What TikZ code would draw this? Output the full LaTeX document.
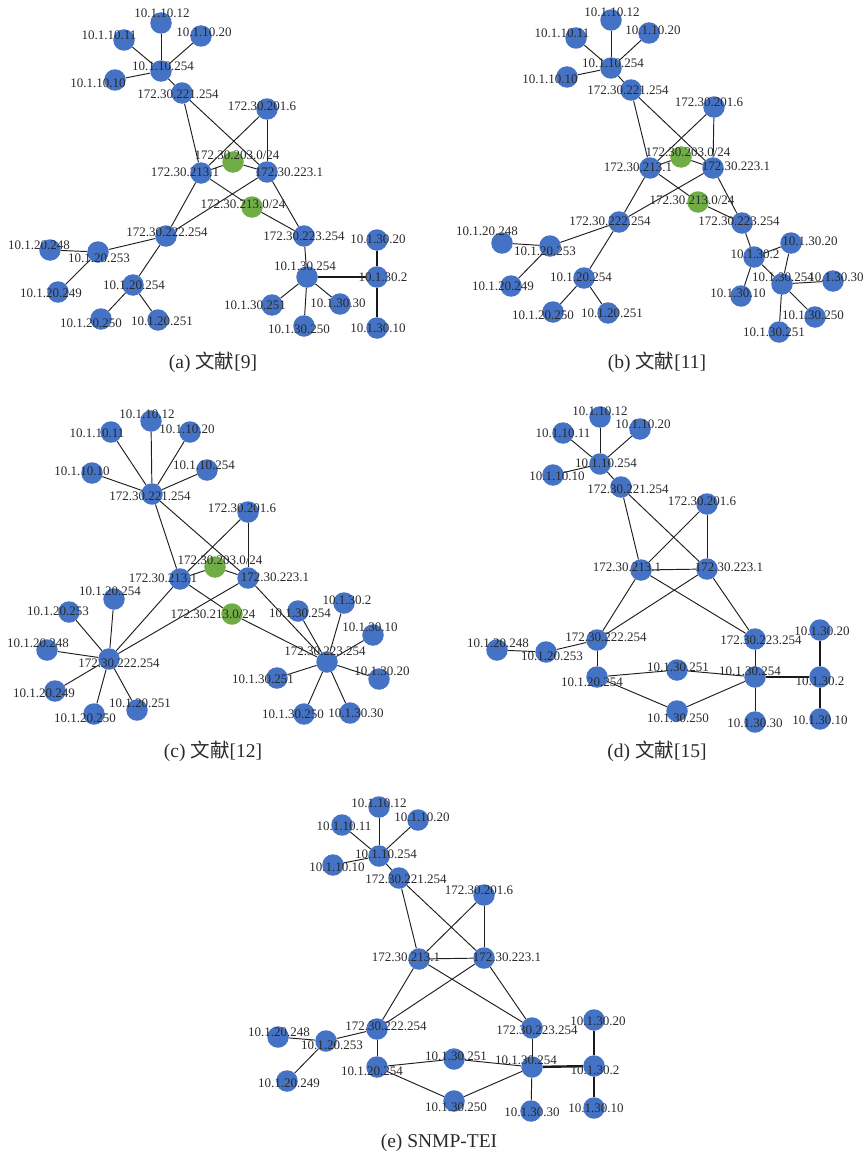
\documentclass[tikz,border=0pt]{standalone}
\usepackage{fontspec}
\setmainfont{Liberation Serif}
\newfontfamily\cjk{Noto Sans CJK SC}
\pgfdeclarelayer{background}
\pgfdeclarelayer{foreground}
\pgfsetlayers{background,main,foreground}
\definecolor{nb}{HTML}{4472C4}
\definecolor{ng}{HTML}{70AD47}
\definecolor{tx}{HTML}{2A2A2A}
\tikzset{
  nd/.style={circle,fill=nb,draw=none,minimum size=21.5pt,inner sep=0pt},
  gn/.style={fill=ng},
  lb/.style={font=\fontsize{13}{13}\selectfont,text=tx,inner sep=0pt},
  captxt/.style={font=\fontsize{19.5}{20}\selectfont,text=tx,inner sep=0pt},
  ln/.style={line width=0.95pt,draw=black!88},
  thk/.style={line width=2.4pt,draw=black!90},
}
\newcommand\mkn[7][]{%
  \node[nd,#1] (#2) at (#3,#4) {};
  \begin{pgfonlayer}{foreground}\node[lb] (#2l) at (#5,#6) {#7};\end{pgfonlayer}}
\newcommand\edg[2]{\foreach \t in {#2}{\draw[ln] (#1)--(\t);}}
\newcommand\edt[2]{\foreach \t in {#2}{\draw[thk] (#1)--(\t);}}
\begin{document}
\begin{tikzpicture}[x=1pt,y=-1pt]
\useasboundingbox (0,0) rectangle (865,1156);
% ---------------- (a)
\mkn{a1012}{161}{23}{162}{13}{10.1.10.12}
\mkn{a1011}{124}{40}{109}{35}{10.1.10.11}
\mkn{a1020}{201}{36}{204}{32}{10.1.10.20}
\mkn{a10254}{161}{71}{163}{66}{10.1.10.254}
\mkn{a1010}{115}{80}{98}{83}{10.1.10.10}
\mkn{a221}{182}{93}{178}{94}{172.30.221.254}
\mkn{a201}{267}{109}{262}{106}{172.30.201.6}
\mkn[gn]{a203}{233}{162}{237}{155}{172.30.203.0/24}
\mkn{a213}{201}{173}{185}{172}{172.30.213.1}
\mkn{a223}{267}{172}{289}{172}{172.30.223.1}
\mkn[gn]{a213n}{252}{207}{243}{204}{172.30.213.0/24}
\mkn{a222}{166}{236}{167}{232}{172.30.222.254}
\mkn{a223b}{304}{236}{304}{236}{172.30.223.254}
\mkn{a20248}{50}{250}{39}{245}{10.1.20.248}
\mkn{a20253}{98}{252}{99}{258}{10.1.20.253}
\mkn{a20249}{58}{292}{51}{293}{10.1.20.249}
\mkn{a20254}{133}{285}{134}{285}{10.1.20.254}
\mkn{a20250}{101}{319}{91}{323}{10.1.20.250}
\mkn{a20251}{158}{320}{162}{321}{10.1.20.251}
\mkn{a30254}{307}{277}{305}{266}{10.1.30.254}
\mkn{a3020}{377}{240}{378}{239}{10.1.30.20}
\mkn{a302}{377}{277}{383}{277}{10.1.30.2}
\mkn{a3010}{377}{328}{378}{328}{10.1.30.10}
\mkn{a30251}{272}{305}{255}{305}{10.1.30.251}
\mkn{a3030}{340}{304}{338}{303}{10.1.30.30}
\mkn{a30250}{304}{326}{299}{329}{10.1.30.250}
\node[captxt] (capa) at (213,362) {(a) {\cjk 文献}[9]};
% ---------------- (b)
\mkn{b1012}{611}{20}{612}{12}{10.1.10.12}
\mkn{b1011}{576}{38}{562}{33}{10.1.10.11}
\mkn{b1020}{649}{33}{653}{30}{10.1.10.20}
\mkn{b10254}{611}{68}{613}{63}{10.1.10.254}
\mkn{b1010}{567}{77}{550}{79}{10.1.10.10}
\mkn{b221}{631}{90}{628}{90}{172.30.221.254}
\mkn{b201}{714}{107}{709}{102}{172.30.201.6}
\mkn[gn]{b203}{681}{157}{688}{152}{172.30.203.0/24}
\mkn{b213}{650}{168}{638}{167}{172.30.213.1}
\mkn{b223}{713}{168}{736}{166}{172.30.223.1}
\mkn[gn]{b213n}{698}{202}{692}{200}{172.30.213.0/24}
\mkn{b222}{619}{222}{610}{221}{172.30.222.254}
\mkn{b223b}{742}{223}{739}{221}{172.30.223.254}
\mkn{b20248}{502}{243}{487}{231}{10.1.20.248}
\mkn{b20253}{550}{246}{545}{251}{10.1.20.253}
\mkn{b20249}{511}{286}{503}{286}{10.1.20.249}
\mkn{b20254}{584}{278}{581}{277}{10.1.20.254}
\mkn{b20250}{553}{312}{543}{315}{10.1.20.250}
\mkn{b20251}{608}{313}{612}{313}{10.1.20.251}
\mkn{b302}{754}{257}{755}{254}{10.1.30.2}
\mkn{b3020}{791}{243}{810}{241}{10.1.30.20}
\mkn{b30254}{782}{284}{783}{277}{10.1.30.254}
\mkn{b3030}{833}{281}{836}{277}{10.1.30.30}
\mkn{b3010}{741}{296}{738}{293}{10.1.30.10}
\mkn{b30250}{815}{317}{813}{315}{10.1.30.250}
\mkn{b30251}{779}{332}{774}{332}{10.1.30.251}
\node[captxt] (capb) at (657,362) {(b) {\cjk 文献}[11]};
% ---------------- (c)
\mkn{c1012}{151}{421}{147}{414}{10.1.10.12}
\mkn{c1011}{111}{432}{97}{433}{10.1.10.11}
\mkn{c1020}{190}{432}{187}{429}{10.1.10.20}
\mkn{c1010}{92}{473}{82}{471}{10.1.10.10}
\mkn{c10254}{207}{470}{204}{465}{10.1.10.254}
\mkn{c221}{152}{494}{150}{496}{172.30.221.254}
\mkn{c201}{248}{512}{242}{508}{172.30.201.6}
\mkn[gn]{c203}{215}{567}{220}{560}{172.30.203.0/24}
\mkn{c213}{180}{579}{163}{578}{172.30.213.1}
\mkn{c223}{248}{578}{275}{577}{172.30.223.1}
\mkn[gn]{c213n}{232}{614}{213}{614}{172.30.213.0/24}
\mkn{c20254}{114}{599}{110}{591}{10.1.20.254}
\mkn{c20253}{69}{612}{58}{611}{10.1.20.253}
\mkn{c20248}{47}{650}{38}{643}{10.1.20.248}
\mkn{c222}{109}{659}{119}{663}{172.30.222.254}
\mkn{c20249}{55}{691}{44}{693}{10.1.20.249}
\mkn{c20250}{94}{714}{85}{718}{10.1.20.250}
\mkn{c20251}{137}{710}{140}{703}{10.1.20.251}
\mkn{c30254}{298}{611}{300}{613}{10.1.30.254}
\mkn{c302}{344}{603}{347}{600}{10.1.30.2}
\mkn{c3010}{373}{635}{370}{627}{10.1.30.10}
\mkn{c223b}{327}{662}{325}{651}{172.30.223.254}
\mkn{c3020}{379}{679}{382}{671}{10.1.30.20}
\mkn{c30251}{277}{678}{263}{679}{10.1.30.251}
\mkn{c30250}{304}{714}{293}{714}{10.1.30.250}
\mkn{c3030}{350}{713}{356}{713}{10.1.30.30}
\node[captxt] (capc) at (213,751) {(c) {\cjk 文献}[12]};
% ---------------- (d)
\mkn{d1012}{600}{417}{600}{411}{10.1.10.12}
\mkn{d1011}{563}{433}{563}{433}{10.1.10.11}
\mkn{d1020}{640}{429}{643}{424}{10.1.10.20}
\mkn{d10254}{600}{464}{606}{463}{10.1.10.254}
\mkn{d1010}{553}{475}{557}{476}{10.1.10.10}
\mkn{d221}{621}{487}{628}{489}{172.30.221.254}
\mkn{d201}{707}{504}{702}{501}{172.30.201.6}
\mkn{d213}{641}{570}{627}{567}{172.30.213.1}
\mkn{d223}{707}{569}{729}{567}{172.30.223.1}
\mkn{d222}{597}{640}{606}{637}{172.30.222.254}
\mkn{d223b}{755}{639}{761}{640}{172.30.223.254}
\mkn{d20248}{497}{650}{498}{643}{10.1.20.248}
\mkn{d20253}{546}{652}{552}{656}{10.1.20.253}
\mkn{d20254}{597}{677}{592}{682}{10.1.20.254}
\mkn{d30251}{677}{670}{678}{667}{10.1.30.251}
\mkn{d30250}{677}{711}{678}{718}{10.1.30.250}
\mkn{d30254}{755}{677}{750}{671}{10.1.30.254}
\mkn{d3030}{755}{722}{755}{723}{10.1.30.30}
\mkn{d3020}{820}{630}{822}{631}{10.1.30.20}
\mkn{d302}{820}{677}{820}{681}{10.1.30.2}
\mkn{d3010}{820}{719}{820}{720}{10.1.30.10}
\node[captxt] (capd) at (657,751) {(d) {\cjk 文献}[15]};
% ---------------- (e)
\mkn{e1012}{379}{807}{379}{803}{10.1.10.12}
\mkn{e1011}{342}{825}{344}{826}{10.1.10.11}
\mkn{e1020}{418}{820}{422}{817}{10.1.10.20}
\mkn{e10254}{379}{856}{386}{854}{10.1.10.254}
\mkn{e1010}{333}{865}{337}{867}{10.1.10.10}
\mkn{e221}{399}{878}{406}{879}{172.30.221.254}
\mkn{e201}{484}{895}{479}{890}{172.30.201.6}
\mkn{e213}{419}{959}{406}{957}{172.30.213.1}
\mkn{e223}{484}{958}{507}{957}{172.30.223.1}
\mkn{e222}{377}{1029}{386}{1026}{172.30.222.254}
\mkn{e223b}{532}{1028}{537}{1030}{172.30.223.254}
\mkn{e20248}{278}{1037}{279}{1032}{10.1.20.248}
\mkn{e20253}{326}{1041}{332}{1045}{10.1.20.253}
\mkn{e20249}{287}{1081}{289}{1083}{10.1.20.249}
\mkn{e20254}{377}{1067}{372}{1071}{10.1.20.254}
\mkn{e30251}{454}{1059}{456}{1056}{10.1.30.251}
\mkn{e30250}{454}{1101}{456}{1107}{10.1.30.250}
\mkn{e30254}{532}{1067}{526}{1060}{10.1.30.254}
\mkn{e3030}{531}{1111}{532}{1112}{10.1.30.30}
\mkn{e3020}{594}{1020}{598}{1021}{10.1.30.20}
\mkn{e302}{594}{1066}{595}{1070}{10.1.30.2}
\mkn{e3010}{594}{1108}{596}{1108}{10.1.30.10}
\node[captxt] (cape) at (439,1143) {(e) SNMP-TEI};
% ---------------- edges
\begin{pgfonlayer}{background}
% (a)
\edg{a10254}{a1012,a1011,a1020,a1010,a221}
\edg{a221}{a213,a223}
\edg{a201}{a213,a223}
\edg{a203}{a213,a223}
\edg{a213}{a222,a213n}
\edg{a213n}{a223b}
\edg{a223}{a222,a223b}
\edg{a222}{a20253,a20254}
\edg{a20253}{a20248,a20249}
\edg{a20254}{a20250,a20251}
\edg{a223b}{a30254}
\edg{a30254}{a30251,a3030,a30250}
\edt{a302}{a30254,a3020,a3010}
% (b)
\edg{b10254}{b1012,b1011,b1020,b1010,b221}
\edg{b221}{b213,b223}
\edg{b201}{b213,b223}
\edg{b203}{b213,b223}
\edg{b213}{b222,b213n}
\edg{b213n}{b223b}
\edg{b223}{b222,b223b}
\edg{b222}{b20253,b20254}
\edg{b20253}{b20248,b20249}
\edg{b20254}{b20250,b20251}
\edg{b223b}{b302}
\edg{b302}{b3020,b30254,b3010}
\edg{b30254}{b3020,b3030,b30250,b30251}
% (c)
\edg{c221}{c1012,c1011,c1020,c1010,c10254}
\edg{c221}{c213,c223}
\edg{c201}{c213,c223}
\edg{c203}{c213,c223}
\edg{c213}{c222,c213n}
\edg{c213n}{c223b}
\edg{c223}{c222,c223b}
\edg{c222}{c20254,c20253,c20248,c20249,c20250,c20251}
\edg{c223b}{c30254,c302,c3010,c3020,c30251,c30250,c3030}
% (d)
\edg{d10254}{d1012,d1011,d1020,d1010,d221}
\edg{d221}{d213,d223}
\edg{d201}{d213,d223}
\edg{d213}{d223,d222,d223b}
\edg{d223}{d222,d223b}
\edg{d222}{d20253,d20254}
\edg{d20253}{d20248}
\edg{d20254}{d30251,d30250}
\edg{d30254}{d30251,d30250,d223b,d3030}
\edt{d302}{d30254,d3020,d3010}
% (e)
\edg{e10254}{e1012,e1011,e1020,e1010,e221}
\edg{e221}{e213,e223}
\edg{e201}{e213,e223}
\edg{e213}{e223,e222,e223b}
\edg{e223}{e222,e223b}
\edg{e222}{e20253,e20254}
\edg{e20253}{e20248,e20249}
\edg{e20254}{e30251,e30250}
\edg{e30254}{e30251,e30250,e223b,e3030}
\edt{e302}{e30254,e3020,e3010}
\end{pgfonlayer}
\end{tikzpicture}
\end{document}
